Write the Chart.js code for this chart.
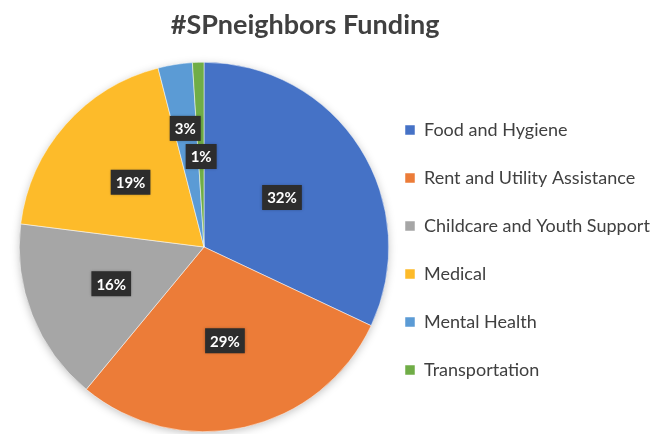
<!DOCTYPE html>
<html>
<head>
<meta charset="utf-8">
<script src="https://cdn.jsdelivr.net/npm/chart.js@4.4.0/dist/chart.umd.min.js"></script>
<style>
  html, body { margin: 0; padding: 0; background: #fff; }
  #wrap { width: 652px; height: 434px; }
</style>
</head>
<body>
<div id="wrap"><canvas id="chart"></canvas></div>
<script>
const chartTitle = '#SPneighbors Funding';
const categories = ['Food and Hygiene', 'Rent and Utility Assistance', 'Childcare and Youth Support', 'Medical', 'Mental Health', 'Transportation'];
const shares = [32, 29, 16, 19, 3, 1];
const sliceColors = ['#4572C6', '#EC7C38', '#A6A6A6', '#FDBB2A', '#5B9BD5', '#70AD47'];

const FONT = 'Lato, "Open Sans", sans-serif';

// soft shadow behind the whole pie
const pieShadow = {
  id: 'pieShadow',
  beforeDatasetsDraw(chart) {
    const arc = chart.getDatasetMeta(0).data[0];
    if (!arc) return;
    const ctx = chart.ctx;
    ctx.save();
    ctx.shadowColor = 'rgba(0,0,0,0.28)';
    ctx.shadowBlur = 10;
    ctx.shadowOffsetY = 2;
    ctx.fillStyle = '#fff';
    ctx.beginPath();
    ctx.arc(arc.x, arc.y, arc.outerRadius - 1, 0, Math.PI * 2);
    ctx.fill();
    ctx.restore();
  }
};

// dark callout boxes with the percentages
const sliceLabels = {
  id: 'sliceLabels',
  afterDatasetsDraw(chart, args, opts) {
    const ctx = chart.ctx;
    chart.getDatasetMeta(0).data.forEach((arc, i) => {
      const p = arc.getProps(['x', 'y', 'startAngle', 'endAngle', 'outerRadius'], true);
      const mid = (p.startAngle + p.endAngle) / 2;
      const r = p.outerRadius * (opts.radius[i] || 0.52);
      const x = p.x + Math.cos(mid) * r;
      const y = p.y + Math.sin(mid) * r;
      const txt = shares[i] + '%';
      ctx.save();
      ctx.font = 'bold 15px ' + FONT;
      const w = ctx.measureText(txt).width + 10;
      const h = 25;
      ctx.shadowColor = 'rgba(0,0,0,0.3)';
      ctx.shadowBlur = 3;
      ctx.fillStyle = '#2d2d2d';
      ctx.fillRect(x - w / 2, y - h / 2, w, h);
      ctx.shadowColor = 'transparent';
      ctx.fillStyle = '#fff';
      ctx.textAlign = 'center';
      ctx.textBaseline = 'middle';
      ctx.fillText(txt, x, y + 1);
      ctx.restore();
    });
  }
};

const chartHeading = {
  id: 'chartHeading',
  afterDraw(chart) {
    const ctx = chart.ctx;
    ctx.save();
    ctx.font = 'bold 27px ' + FONT;
    ctx.fillStyle = '#404040';
    ctx.textAlign = 'center';
    ctx.textBaseline = 'middle';
    ctx.fillText(chartTitle, chart.width * 0.468, 25);
    ctx.restore();
  }
};

new Chart(document.getElementById('chart'), {
  type: 'pie',
  data: {
    labels: categories,
    datasets: [{
      data: shares,
      backgroundColor: sliceColors,
      borderColor: '#fff',
      borderWidth: 0.5
    }]
  },
  options: {
    responsive: true,
    maintainAspectRatio: false,
    animation: false,
    layout: { padding: { top: 60, bottom: 0, left: 19, right: 0 } },
    plugins: {
      title: { display: false },
      tooltip: { enabled: false },
      legend: {
        position: 'right',
        maxWidth: 263,
        title: { display: true, text: ' ', font: { size: 10, lineHeight: 1.2 }, padding: 4 },
        labels: {
          boxWidth: 10,
          boxHeight: 10,
          padding: 16,
          color: '#404040',
          font: { family: FONT, size: 18, lineHeight: '32px' },
          // one-line arrays so each row gets the taller line height
          generateLabels(chart) {
            const items = Chart.overrides.pie.plugins.legend.labels.generateLabels(chart);
            return items.map(it => Object.assign(it, { text: [it.text] }));
          }
        }
      },
      sliceLabels: { radius: [0.5, 0.52, 0.54, 0.53, 0.65, 0.49] }
    }
  },
  plugins: [pieShadow, sliceLabels, chartHeading]
});
</script>
</body>
</html>
